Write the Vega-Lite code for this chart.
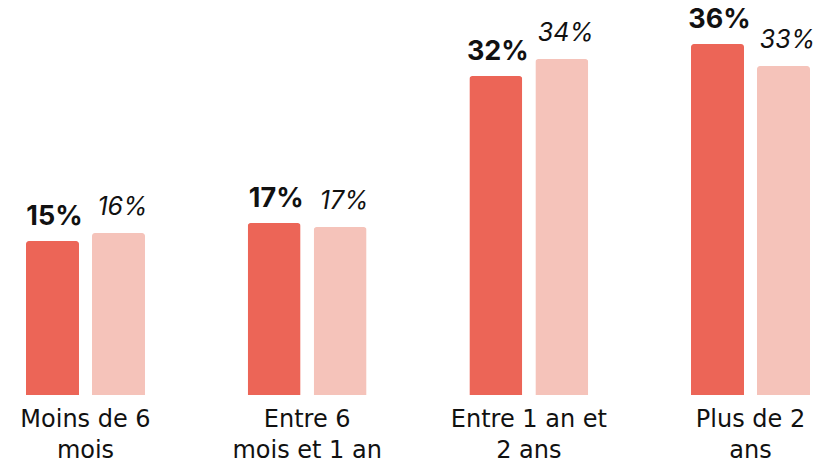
{
  "$schema": "https://vega.github.io/schema/vega-lite/v6.json",
  "width": 818,
  "height": 395,
  "autosize": {"type": "none"},
  "padding": {"left": 0, "top": 0, "right": 0, "bottom": 69},
  "background": "white",
  "config": {"view": {"stroke": null}, "font": "Inter"},
  "data": {"values": [
    {"group": "Moins de 6|mois", "serie": "a", "value": 15.4, "label": "15%"},
    {"group": "Moins de 6|mois", "serie": "b", "value": 16.2, "label": "16%"},
    {"group": "Entre 6|mois et 1 an", "serie": "a", "value": 17.2, "label": "17%"},
    {"group": "Entre 6|mois et 1 an", "serie": "b", "value": 16.8, "label": "17%"},
    {"group": "Entre 1 an et|2 ans", "serie": "a", "value": 31.9, "label": "32%"},
    {"group": "Entre 1 an et|2 ans", "serie": "b", "value": 33.6, "label": "34%"},
    {"group": "Plus de 2|ans", "serie": "a", "value": 35.1, "label": "36%"},
    {"group": "Plus de 2|ans", "serie": "b", "value": 32.9, "label": "33%"}
  ]},
  "encoding": {
    "x": {"field": "group", "type": "nominal", "sort": null,
      "scale": {"range": [0, 836], "paddingInner": 0.4632, "paddingOuter": 0.1173},
      "axis": {"title": null, "domain": false, "ticks": false, "labelAngle": 0,
        "labelExpr": "split(datum.value, '|')", "labelFontSize": 24, "labelColor": "#111111",
        "labelPadding": 12, "labelLineHeight": 31, "labelLimit": 300, "labelFont": "DejaVu Sans"}},
    "xOffset": {"field": "serie", "type": "nominal", "scale": {"paddingInner": 0.197, "paddingOuter": 0}},
    "y": {"field": "value", "type": "quantitative", "scale": {"domain": [0, 39.5]}, "axis": null}
  },
  "layer": [
    {"mark": {"type": "bar", "cornerRadiusTopLeft": 3, "cornerRadiusTopRight": 3},
     "encoding": {"color": {"field": "serie", "type": "nominal", "legend": null,
       "scale": {"domain": ["a", "b"], "range": ["#EC6557", "#F5C3BA"]}}}},
    {"transform": [{"filter": "datum.serie == 'a'"}],
     "mark": {"type": "text", "fontWeight": "bold", "fontSize": 27, "dy": -16, "baseline": "alphabetic", "color": "#111111", "dx": 2},
     "encoding": {"text": {"field": "label"}}},
    {"transform": [{"filter": "datum.serie == 'b'"}],
     "mark": {"type": "text", "fontStyle": "italic", "fontSize": 25, "dy": -18, "baseline": "alphabetic", "color": "#111111", "dx": 4},
     "encoding": {"text": {"field": "label"}}}
  ]
}
